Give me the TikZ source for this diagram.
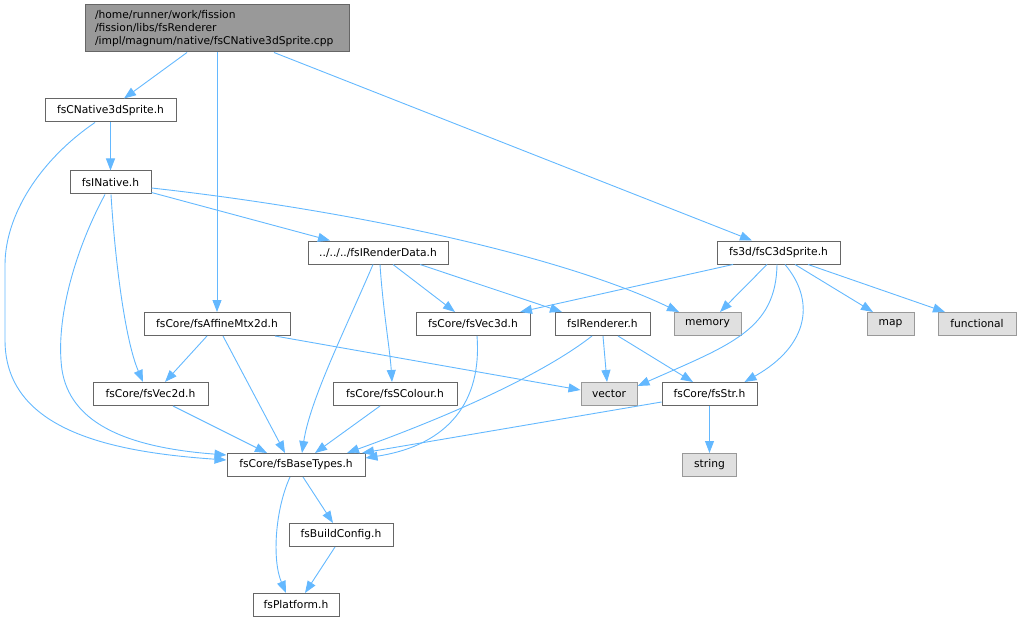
\documentclass[tikz,border=0pt]{standalone}
\usepackage{fontspec}
\setmainfont{DejaVu Sans}
\usetikzlibrary{arrows.meta,calc}
\definecolor{edgec}{HTML}{63B8FF}
\definecolor{boxc}{HTML}{666666}
\definecolor{sysc}{HTML}{999999}
\definecolor{sysfill}{HTML}{E0E0E0}
\definecolor{topfill}{HTML}{999999}
\begin{document}
\begin{tikzpicture}[x=1pt,y=-1pt,
  font=\fontsize{10.7}{13}\selectfont,
  box/.style={draw=boxc, fill=white, line width=1pt, inner sep=0pt, minimum height=23pt},
  sysbox/.style={box, draw=sysc, fill=sysfill},
  topbox/.style={draw=boxc, fill=topfill, line width=1pt, inner xsep=10pt, inner ysep=0pt,
    text width=244pt, align=left, minimum height=47pt},
  dep/.style={draw=edgec, line width=0.9pt, -{Triangle[length=12pt,width=9pt]}}]
\useasboundingbox (0,0) rectangle (1021,623);

% nodes
\node[topbox] (top) at (217,28.5) {/home/runner/work/fission\\/fission/libs/fsRenderer\\/impl/magnum/native/fsCNative3dSprite.cpp};
\node[box, minimum width=131pt] (nsprite) at (110.5,110.5) {fsCNative3dSprite.h};
\node[box, minimum width=81pt] (inative) at (110.5,182.5) {fsINative.h};
\node[box, minimum width=140pt] (rdata) at (378,252.5) {../../../fsIRenderData.h};
\node[box, minimum width=123pt] (c3d) at (778.5,252.5) {fs3d/fsC3dSprite.h};
\node[box, minimum width=146pt] (affine) at (217,324) {fsCore/fsAffineMtx2d.h};
\node[box, minimum width=114pt] (vec3d) at (473,324) {fsCore/fsVec3d.h};
\node[box, minimum width=95pt] (renderer) at (602.5,324) {fsIRenderer.h};
\node[sysbox, minimum width=67pt] (memory) at (707.5,324) {memory};
\node[sysbox, minimum width=47pt] (map) at (890.5,324) {map};
\node[sysbox, minimum width=78pt] (functional) at (977,324) {functional};
\node[box, minimum width=115pt] (vec2d) at (150.5,394) {fsCore/fsVec2d.h};
\node[box, minimum width=124pt] (scolour) at (395,394) {fsCore/fsSColour.h};
\node[sysbox, minimum width=56pt] (vector) at (609,394) {vector};
\node[box, minimum width=95pt] (str) at (709.5,394) {fsCore/fsStr.h};
\node[box, minimum width=138pt] (basetypes) at (296,465) {fsCore/fsBaseTypes.h};
\node[sysbox, minimum width=54pt] (string) at (709.5,465) {string};
\node[box, minimum width=104pt] (buildconfig) at (341,535) {fsBuildConfig.h};
\node[box, minimum width=86pt] (platform) at (296,605) {fsPlatform.h};

% edges
\draw[dep] ([xshift=-30pt]top.south) -- ([xshift=13.5pt]nsprite.north);
\draw[dep] (top.south) -- (affine.north);
\draw[dep] ([xshift=57pt]top.south) -- ([xshift=-26.5pt]c3d.north);
\draw[dep] (nsprite.south) -- (inative.north);
\draw[dep] ([xshift=-15.5pt]nsprite.south) .. controls (40,160) and (5,215) .. (5,265)
   -- (5,340) .. controls (5,430) and (110,452) .. ([yshift=5pt]basetypes.west);
\draw[dep] ([xshift=-5.5pt]inative.south) .. controls (75,250) and (55,320) .. (62,370)
   .. controls (70,420) and (120,447) .. ([yshift=10pt]basetypes.west);
\draw[dep] ([xshift=0.5pt]inative.south) .. controls (115,260) and (125,340) .. ([xshift=-7.5pt]vec2d.north);
\draw[dep] ([yshift=-10pt]inative.east) -- ([xshift=-48pt]rdata.north);
\draw[dep] ([yshift=-5.5pt]inative.east) .. controls (350,210) and (560,255) .. ([xshift=-28.5pt]memory.north);
\draw[dep] ([xshift=15pt]rdata.south) -- ([xshift=-18pt]vec3d.north);
\draw[dep] ([xshift=42pt]rdata.south) -- ([xshift=-40.5pt]renderer.north);
\draw[dep] ([xshift=2pt]rdata.south) .. controls (383,310) and (390,350) .. ([xshift=-3pt]scolour.north);
\draw[dep] ([xshift=-5pt]rdata.south) .. controls (345,330) and (310,400) .. ([xshift=6pt]basetypes.north);
\draw[dep] ([xshift=-45.5pt]c3d.south) -- ([xshift=47pt]vec3d.north);
\draw[dep] ([xshift=-11.5pt]c3d.south) -- ([xshift=12.5pt]memory.north);
\draw[dep] ([xshift=-1.5pt]c3d.south) .. controls (776,330) and (730,345) .. ([yshift=8pt]vector.east);
\draw[dep] ([xshift=6.5pt]c3d.south) .. controls (815,300) and (810,345) .. ([xshift=35pt]str.north);
\draw[dep] ([xshift=16.5pt]c3d.south) -- ([xshift=-17.5pt]map.north);
\draw[dep] ([xshift=29.5pt]c3d.south) -- ([xshift=-32pt]functional.north);
\draw[dep] ([xshift=-10pt]affine.south) -- ([xshift=14.5pt]vec2d.north);
\draw[dep] ([xshift=6pt]affine.south) -- ([xshift=-11pt]basetypes.north);
\draw[dep] ([xshift=58pt]affine.south) -- ([yshift=4pt]vector.west);
\draw[dep] ([xshift=4pt]vec3d.south) .. controls (482,400) and (450,445) .. ([yshift=7pt]basetypes.east);
\draw[dep] ([xshift=0.5pt]renderer.south) -- ([xshift=-2pt]vector.north);
\draw[dep] ([xshift=15.5pt]renderer.south) -- ([xshift=-16.5pt]str.north);
\draw[dep] ([xshift=-10.5pt]renderer.south) .. controls (555,365) and (480,405) .. ([xshift=51pt]basetypes.north);
\draw[dep] ([xshift=22.5pt]vec2d.south) -- ([xshift=-29pt]basetypes.north);
\draw[dep] ([xshift=-15pt]scolour.south) -- ([xshift=19pt]basetypes.north);
\draw[dep] ([yshift=-8pt]str.west) -- ([xshift=66pt]basetypes.north);
\draw[dep] (str.south) -- (string.north);
\draw[dep] ([xshift=7pt]basetypes.south) -- ([xshift=-8pt]buildconfig.north);
\draw[dep] ([xshift=-6pt]basetypes.south) .. controls (275,510) and (272,560) .. ([xshift=-10pt]platform.north);
\draw[dep] ([xshift=-6pt]buildconfig.south) -- ([xshift=9pt]platform.north);
\end{tikzpicture}
\end{document}
